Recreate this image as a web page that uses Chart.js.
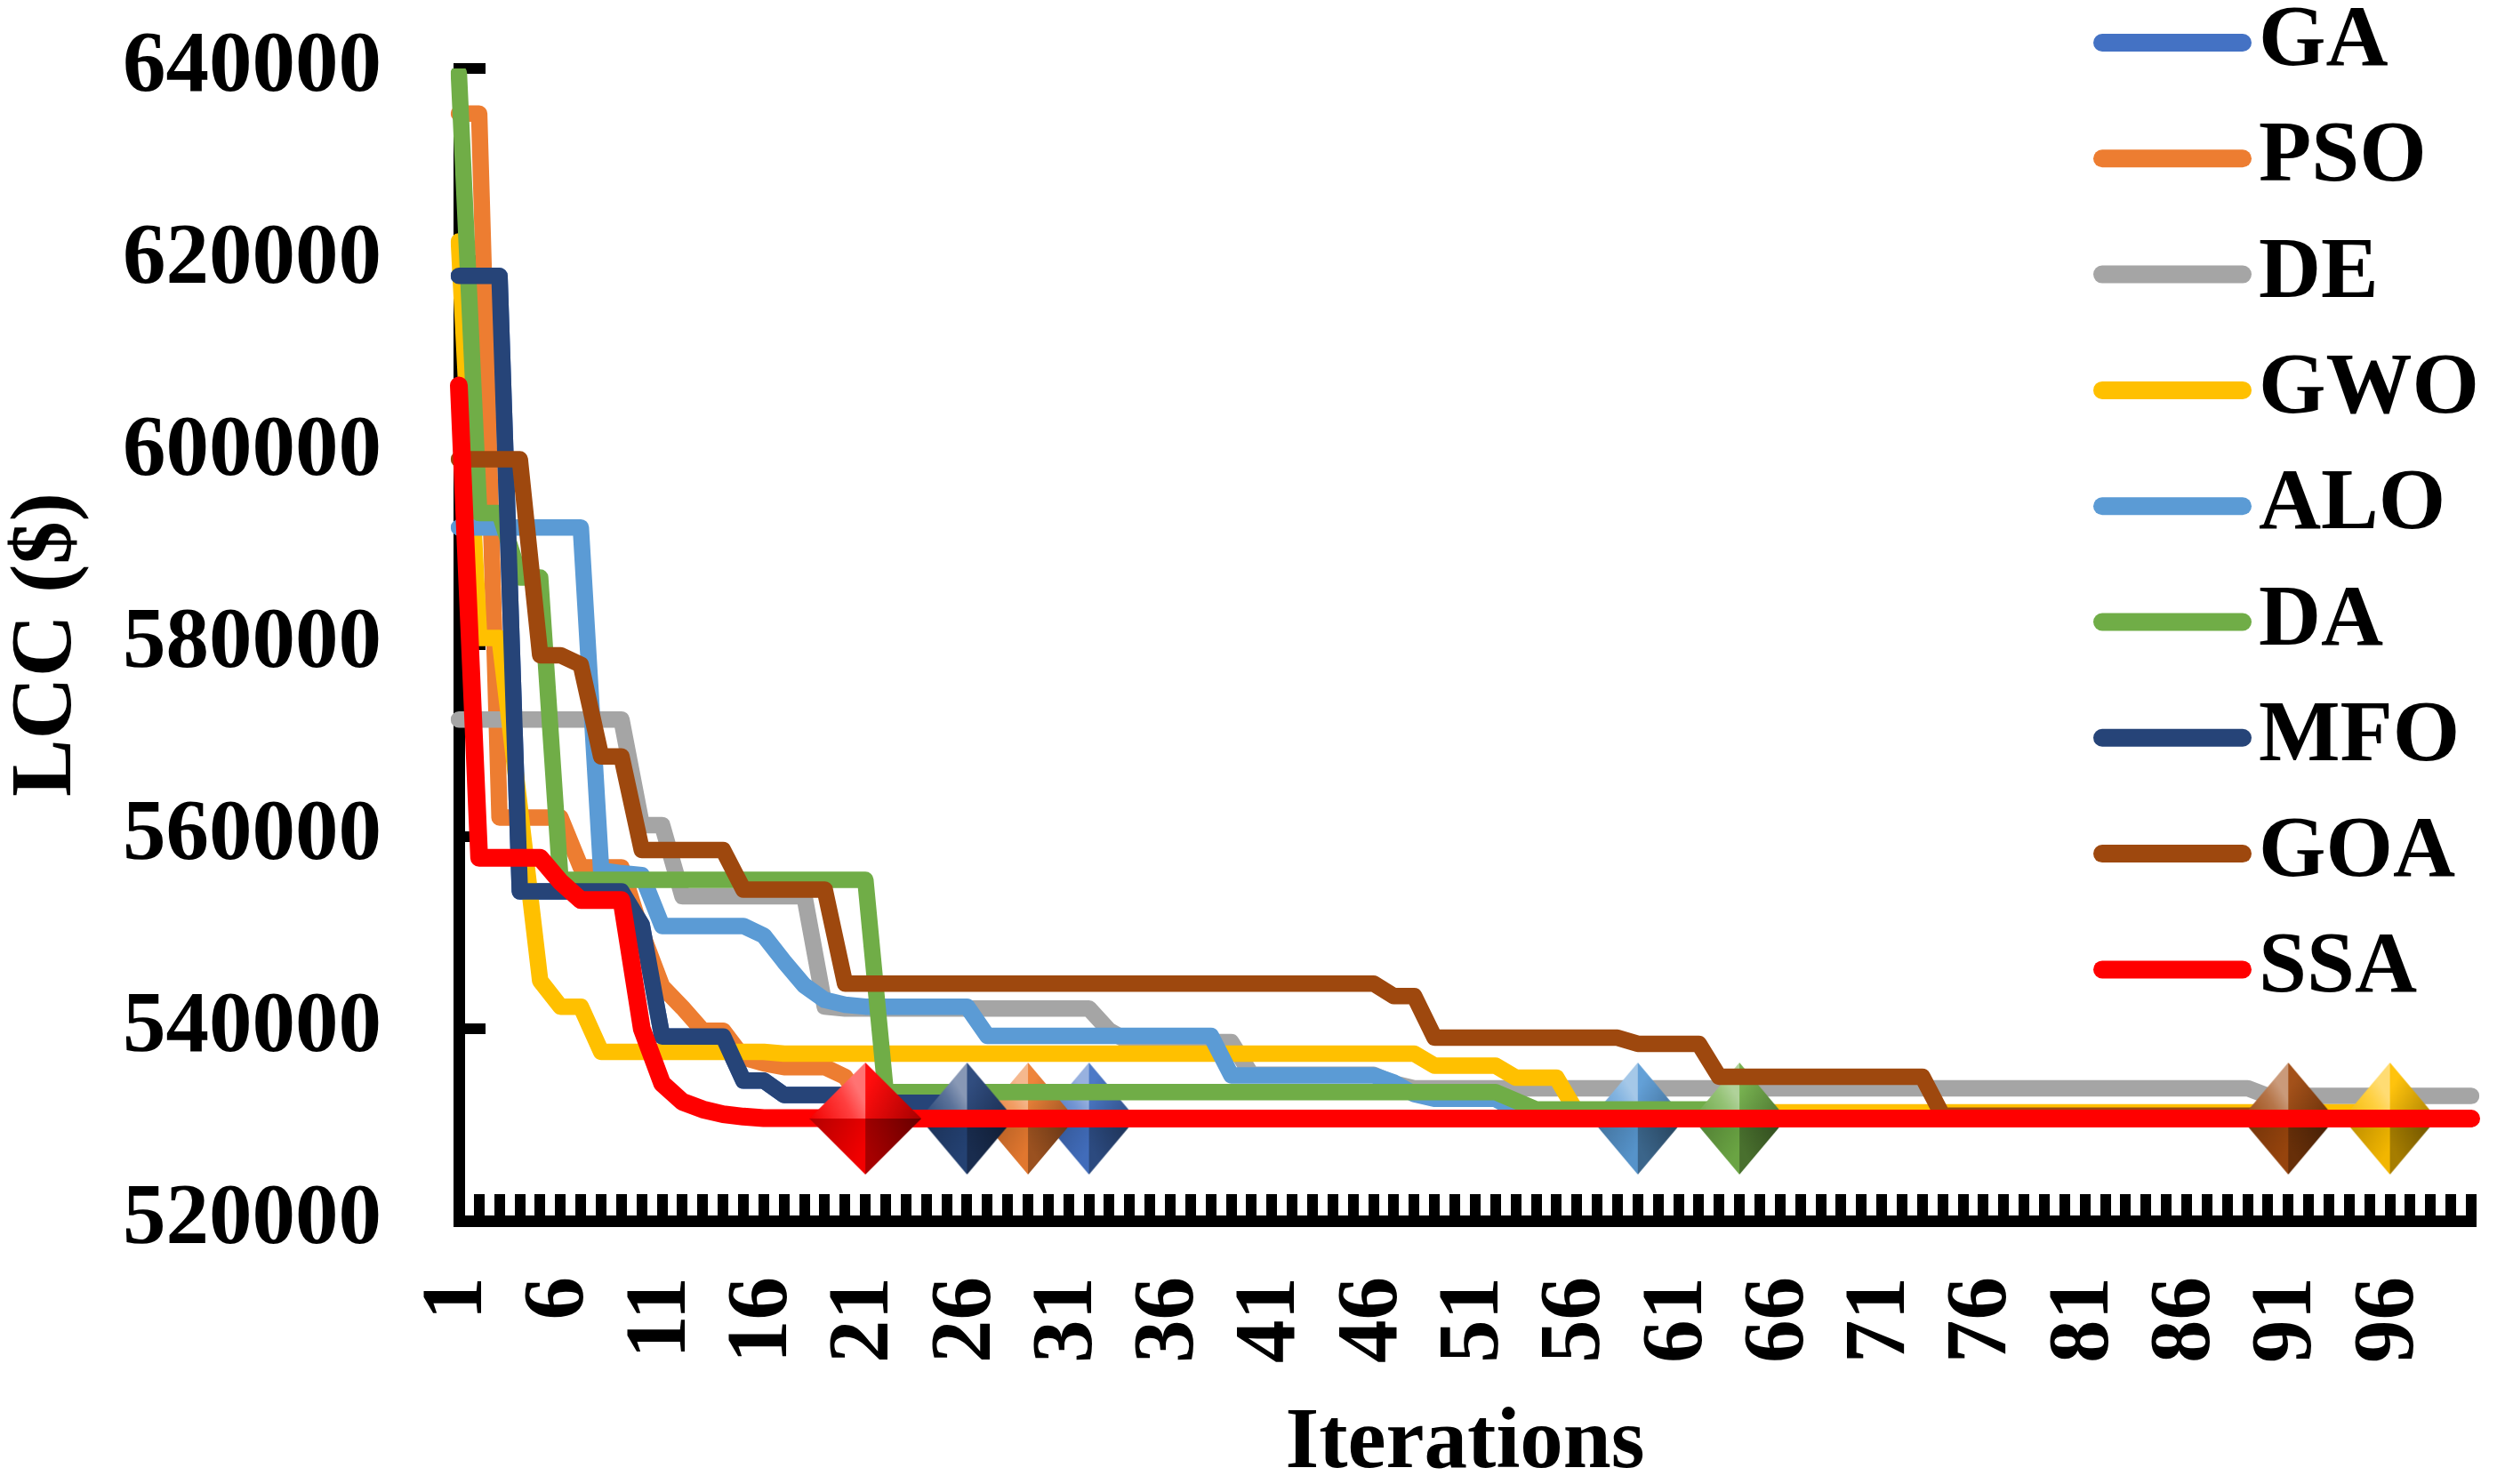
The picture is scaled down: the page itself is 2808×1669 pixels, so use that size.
<!DOCTYPE html>
<html>
<head>
<meta charset="utf-8">
<title>LCC convergence</title>
<script src="https://cdn.jsdelivr.net/npm/chart.js@4.4.1/dist/chart.umd.min.js"></script>
<style>
  html, body { margin: 0; padding: 0; background: #fff; }
  canvas { display: block; }
</style>
</head>
<body>
<canvas id="chart" width="2808" height="1669"></canvas>
<script>
// ------------------------------------------------------
// Data
// ------------------------------------------------------
const iterations = Array.from({ length: 100 }, (_, i) => String(i + 1));
const xLabelEvery = 5;
const yMin = 520000;
const yMax = 640000;
const yStep = 20000;

const seriesNames = ["GA", "PSO", "DE", "GWO", "ALO", "DA", "MFO", "GOA", "SSA"];
const seriesColors = ["#4472C4", "#ED7D31", "#A5A5A5", "#FFC000", "#5B9BD5", "#70AD47", "#264478", "#9E480E", "#FF0000"];
// iteration where each algorithm is marked as converged (DE has no marker)
const convergeIter = [32, 29, null, 96, 59, 64, 26, 91, 21];

const gaLcc = [
  618400, 618400, 618400, 554300, 554300, 554300, 554300, 554300, 554300, 550800,
  539200, 539200, 539200, 539200, 534600, 534600, 533100, 533100, 533100, 533100,
  533100, 530650, 530650, 530650, 530650, 530650, 530650, 530650, 530650, 530650,
  530650, 530650, 530650, 530650, 530650, 530650, 530650, 530650, 530650, 530650,
  530650, 530650, 530650, 530650, 530650, 530650, 530650, 530650, 530650, 530650,
  530650, 530650, 530650, 530650, 530650, 530650, 530650, 530650, 530650, 530650,
  530650, 530650, 530650, 530650, 530650, 530650, 530650, 530650, 530650, 530650,
  530650, 530650, 530650, 530650, 530650, 530650, 530650, 530650, 530650, 530650,
  530650, 530650, 530650, 530650, 530650, 530650, 530650, 530650, 530650, 530650,
  530650, 530650, 530650, 530650, 530650, 530650, 530650, 530650, 530650, 530650
];
const psoLcc = [
  635300, 635300, 562000, 562000, 562000, 562000, 556800, 556800, 556800, 550000,
  544400, 542200, 539800, 539800, 537000, 536400, 536000, 536000, 536000, 535000,
  532000, 530650, 530650, 530650, 530650, 530650, 530650, 530650, 530650, 530650,
  530650, 530650, 530650, 530650, 530650, 530650, 530650, 530650, 530650, 530650,
  530650, 530650, 530650, 530650, 530650, 530650, 530650, 530650, 530650, 530650,
  530650, 530650, 530650, 530650, 530650, 530650, 530650, 530650, 530650, 530650,
  530650, 530650, 530650, 530650, 530650, 530650, 530650, 530650, 530650, 530650,
  530650, 530650, 530650, 530650, 530650, 530650, 530650, 530650, 530650, 530650,
  530650, 530650, 530650, 530650, 530650, 530650, 530650, 530650, 530650, 530650,
  530650, 530650, 530650, 530650, 530650, 530650, 530650, 530650, 530650, 530650
];
const deLcc = [
  572200, 572200, 572200, 572200, 572200, 572200, 572200, 572200, 572200, 561200,
  561200, 553800, 553800, 553800, 553800, 553800, 553800, 553800, 542300, 542100,
  542100, 542100, 542100, 542100, 542100, 542100, 542100, 542100, 542100, 542100,
  542100, 542100, 539800, 538600, 538600, 538600, 538600, 538600, 538600, 535200,
  535200, 535200, 535200, 535200, 535200, 535200, 534300, 533800, 533800, 533800,
  533800, 533800, 533800, 533800, 533800, 533800, 533800, 533800, 533800, 533800,
  533800, 533800, 533800, 533800, 533800, 533800, 533800, 533800, 533800, 533800,
  533800, 533800, 533800, 533800, 533800, 533800, 533800, 533800, 533800, 533800,
  533800, 533800, 533800, 533800, 533800, 533800, 533800, 533800, 533800, 533000,
  533000, 533000, 533000, 533000, 533000, 533000, 533000, 533000, 533000, 533000
];
const gwoLcc = [
  622000, 580700, 580700, 563000, 545000, 542300, 542300, 537600, 537600, 537600,
  537600, 537600, 537600, 537600, 537600, 537600, 537400, 537400, 537400, 537400,
  537400, 537400, 537400, 537400, 537400, 537400, 537400, 537400, 537400, 537400,
  537400, 537400, 537400, 537400, 537400, 537400, 537400, 537400, 537400, 537400,
  537400, 537400, 537400, 537400, 537400, 537400, 537400, 537400, 536150, 536150,
  536150, 536150, 534900, 534900, 534900, 531300, 531300, 531300, 531300, 531300,
  531300, 531300, 531300, 531300, 531300, 531300, 531300, 531300, 531300, 531300,
  531300, 531300, 531300, 531300, 531300, 531300, 531300, 531300, 531300, 531300,
  531300, 531300, 531300, 531300, 531300, 531300, 531300, 531300, 531300, 531300,
  531300, 531300, 531300, 531300, 531300, 530650, 530650, 530650, 530650, 530650
];
const aloLcc = [
  592200, 592200, 592200, 592200, 592200, 592200, 592200, 556500, 556200, 556000,
  550700, 550700, 550700, 550700, 550700, 549700, 547000, 544500, 543000, 542500,
  542300, 542300, 542300, 542300, 542300, 542300, 539260, 539260, 539260, 539260,
  539260, 539260, 539260, 539260, 539260, 539260, 539260, 539260, 535150, 535150,
  535150, 535150, 535150, 535150, 535150, 535150, 534400, 533200, 532700, 532700,
  532700, 532700, 531500, 531500, 531500, 531500, 531500, 531500, 530650, 530650,
  530650, 530650, 530650, 530650, 530650, 530650, 530650, 530650, 530650, 530650,
  530650, 530650, 530650, 530650, 530650, 530650, 530650, 530650, 530650, 530650,
  530650, 530650, 530650, 530650, 530650, 530650, 530650, 530650, 530650, 530650,
  530650, 530650, 530650, 530650, 530650, 530650, 530650, 530650, 530650, 530650
];
const daLcc = [
  639500, 593700, 593700, 587000, 587000, 555500, 555500, 555500, 555500, 555500,
  555500, 555500, 555500, 555500, 555500, 555500, 555500, 555500, 555500, 555500,
  555500, 533400, 533400, 533400, 533400, 533400, 533400, 533400, 533400, 533400,
  533400, 533400, 533400, 533400, 533400, 533400, 533400, 533400, 533400, 533400,
  533400, 533400, 533400, 533400, 533400, 533400, 533400, 533400, 533400, 533400,
  533400, 533400, 532500, 531600, 531600, 531600, 531600, 531600, 531600, 531600,
  531600, 531600, 531600, 530650, 530650, 530650, 530650, 530650, 530650, 530650,
  530650, 530650, 530650, 530650, 530650, 530650, 530650, 530650, 530650, 530650,
  530650, 530650, 530650, 530650, 530650, 530650, 530650, 530650, 530650, 530650,
  530650, 530650, 530650, 530650, 530650, 530650, 530650, 530650, 530650, 530650
];
const mfoLcc = [
  618400, 618400, 618400, 554300, 554300, 554300, 554300, 554300, 554300, 550800,
  539200, 539200, 539200, 539200, 534600, 534600, 533100, 533100, 533100, 533100,
  533100, 532300, 532300, 532300, 532300, 530650, 530650, 530650, 530650, 530650,
  530650, 530650, 530650, 530650, 530650, 530650, 530650, 530650, 530650, 530650,
  530650, 530650, 530650, 530650, 530650, 530650, 530650, 530650, 530650, 530650,
  530650, 530650, 530650, 530650, 530650, 530650, 530650, 530650, 530650, 530650,
  530650, 530650, 530650, 530650, 530650, 530650, 530650, 530650, 530650, 530650,
  530650, 530650, 530650, 530650, 530650, 530650, 530650, 530650, 530650, 530650,
  530650, 530650, 530650, 530650, 530650, 530650, 530650, 530650, 530650, 530650,
  530650, 530650, 530650, 530650, 530650, 530650, 530650, 530650, 530650, 530650
];
const goaLcc = [
  599300, 599300, 599300, 599300, 578900, 578900, 577900, 568350, 568350, 558600,
  558600, 558600, 558600, 558600, 554500, 554500, 554500, 554500, 554500, 544700,
  544700, 544700, 544700, 544700, 544700, 544700, 544700, 544700, 544700, 544700,
  544700, 544700, 544700, 544700, 544700, 544700, 544700, 544700, 544700, 544700,
  544700, 544700, 544700, 544700, 544700, 544700, 543400, 543400, 539070, 539070,
  539070, 539070, 539070, 539070, 539070, 539070, 539070, 539070, 538430, 538430,
  538430, 538430, 535000, 535000, 535000, 535000, 535000, 535000, 535000, 535000,
  535000, 535000, 535000, 530950, 530950, 530950, 530950, 530950, 530950, 530950,
  530950, 530950, 530950, 530950, 530950, 530950, 530950, 530950, 530950, 530950,
  530650, 530650, 530650, 530650, 530650, 530650, 530650, 530650, 530650, 530650
];
const ssaLcc = [
  607000, 557800, 557800, 557800, 557800, 555300, 553400, 553400, 553400, 540000,
  534300, 532400, 531600, 531100, 530850, 530700, 530700, 530700, 530700, 530700,
  530650, 530650, 530650, 530650, 530650, 530650, 530650, 530650, 530650, 530650,
  530650, 530650, 530650, 530650, 530650, 530650, 530650, 530650, 530650, 530650,
  530650, 530650, 530650, 530650, 530650, 530650, 530650, 530650, 530650, 530650,
  530650, 530650, 530650, 530650, 530650, 530650, 530650, 530650, 530650, 530650,
  530650, 530650, 530650, 530650, 530650, 530650, 530650, 530650, 530650, 530650,
  530650, 530650, 530650, 530650, 530650, 530650, 530650, 530650, 530650, 530650,
  530650, 530650, 530650, 530650, 530650, 530650, 530650, 530650, 530650, 530650,
  530650, 530650, 530650, 530650, 530650, 530650, 530650, 530650, 530650, 530650
];
const seriesLcc = [gaLcc, psoLcc, deLcc, gwoLcc, aloLcc, daLcc, mfoLcc, goaLcc, ssaLcc];

// ------------------------------------------------------
// Styling
// ------------------------------------------------------
const FONT = "'Liberation Serif', 'Times New Roman', serif";
const bold97 = { family: FONT, size: 97, weight: "bold", lineHeight: 1 };

Chart.defaults.font.family = FONT;
Chart.defaults.color = "#000";

// mix a hex colour toward white (f > 0) or black (f < 0)
function shade(hex, f) {
  const n = parseInt(hex.slice(1), 16);
  const t = f < 0 ? 0 : 255;
  const p = Math.abs(f);
  const mix = c => Math.round(c + (t - c) * p);
  return `rgb(${mix(n >> 16)},${mix((n >> 8) & 255)},${mix(n & 255)})`;
}

// 3D looking diamond marker (four shaded facets, like the Excel bevel marker)
function makeDiamond(color, w, h) {
  const c = document.createElement("canvas");
  c.width = w;
  c.height = h;
  const g = c.getContext("2d");
  const cx = w / 2, cy = h / 2;
  const T = [cx, 0], R = [w, cy], B = [cx, h], L = [0, cy], C = [cx, cy];

  function facet(pts, x0, y0, x1, y1, stops) {
    const gr = g.createLinearGradient(x0, y0, x1, y1);
    stops.forEach(s => gr.addColorStop(s[0], s[1]));
    g.beginPath();
    g.moveTo(pts[0][0], pts[0][1]);
    pts.slice(1).forEach(p => g.lineTo(p[0], p[1]));
    g.closePath();
    g.fillStyle = gr;
    g.fill();
  }

  facet([T, C, L], 0, cy, cx * 0.9, cy * 0.55,
    [[0, shade(color, -0.05)], [0.7, shade(color, 0.25)], [1, shade(color, 0.45)]]);
  facet([T, R, C], cx, cy * 0.5, w, cy,
    [[0, shade(color, 0.05)], [1, shade(color, -0.35)]]);
  facet([L, C, B], 0, cy, cx, cy * 1.5,
    [[0, shade(color, -0.3)], [1, shade(color, -0.05)]]);
  facet([C, R, B], cx, cy * 1.4, w, cy,
    [[0, shade(color, -0.35)], [1, shade(color, -0.6)]]);
  return c;
}

const markers = seriesColors.map((col, i) =>
  seriesNames[i] === "SSA" ? makeDiamond(col, 126, 126) : makeDiamond(col, 106, 126));

// Legend drawn in the top right corner, over the plot area
const sideLegend = {
  id: "sideLegend",
  afterDraw(chart) {
    const ctx = chart.ctx;
    ctx.save();
    ctx.font = `bold 97px ${FONT}`;
    ctx.textAlign = "left";
    ctx.textBaseline = "middle";
    ctx.lineCap = "round";
    chart.data.datasets.forEach((ds, i) => {
      const y = 48 + i * 130.3;
      ctx.strokeStyle = ds.borderColor;
      ctx.lineWidth = 20;
      ctx.beginPath();
      ctx.moveTo(2364, y);
      ctx.lineTo(2522, y);
      ctx.stroke();
      ctx.fillStyle = "#000";
      ctx.fillText(ds.label, 2540, y);
    });
    ctx.restore();
  }
};

// ------------------------------------------------------
// Chart
// ------------------------------------------------------
function criarGrafico() {
  const ctx = document.getElementById("chart").getContext("2d");

  new Chart(ctx, {
    type: "line",
    data: {
      labels: iterations,
      datasets: seriesNames.map((name, i) => ({
        label: name,
        data: seriesLcc[i],
        borderColor: seriesColors[i],
        backgroundColor: seriesColors[i],
        borderWidth: name === "SSA" ? 20 : 18.5,
        borderJoinStyle: "round",
        borderCapStyle: "round",
        tension: 0,
        fill: false,
        order: seriesNames.length - i,
        pointStyle: c => (c.dataIndex + 1 === convergeIter[i] ? markers[i] : "circle"),
        pointRadius: c => (c.dataIndex + 1 === convergeIter[i] ? 40 : 0),
        pointHoverRadius: 0,
        pointBorderWidth: 0
      }))
    },
    plugins: [sideLegend],
    options: {
      responsive: false,
      animation: false,
      devicePixelRatio: 1,
      events: [],
      layout: { padding: { top: 77, right: 29, bottom: 0, left: 0 } },
      plugins: {
        legend: { display: false },
        tooltip: { enabled: false }
      },
      scales: {
        x: {
          type: "category",
          offset: false,
          afterFit(scale) {
            scale.height = 296;
            scale.paddingLeft = 0;
            scale.paddingRight = 0;
          },
          grid: {
            drawOnChartArea: false,
            drawTicks: true,
            tickLength: -30,
            lineWidth: 12,
            color: "#000"
          },
          border: { display: true, color: "#000", width: 13 },
          ticks: {
            autoSkip: false,
            maxRotation: 90,
            minRotation: 90,
            padding: 93,
            color: "#000",
            font: bold97,
            callback(value, index) {
              return index % xLabelEvery === 0 ? this.getLabelForValue(value) : "";
            }
          },
          title: {
            display: true,
            text: "Iterations",
            color: "#000",
            font: bold97,
            padding: { top: 0, bottom: -4 }
          }
        },
        y: {
          min: yMin,
          max: yMax,
          afterFit(scale) {
            scale.width = 516;
            scale.paddingTop = 0;
            scale.paddingBottom = 0;
          },
          grid: {
            drawOnChartArea: false,
            drawTicks: true,
            tickLength: -30,
            lineWidth: 12,
            color: "#000"
          },
          border: { display: true, color: "#000", width: 13 },
          ticks: {
            stepSize: yStep,
            padding: 117,
            color: "#000",
            font: bold97,
            callback: v => String(v)
          },
          title: {
            display: true,
            text: "LCC ($)",
            color: "#000",
            font: bold97,
            padding: { top: 5, bottom: 0 }
          }
        }
      }
    }
  });
}

criarGrafico();
</script>
</body>
</html>
